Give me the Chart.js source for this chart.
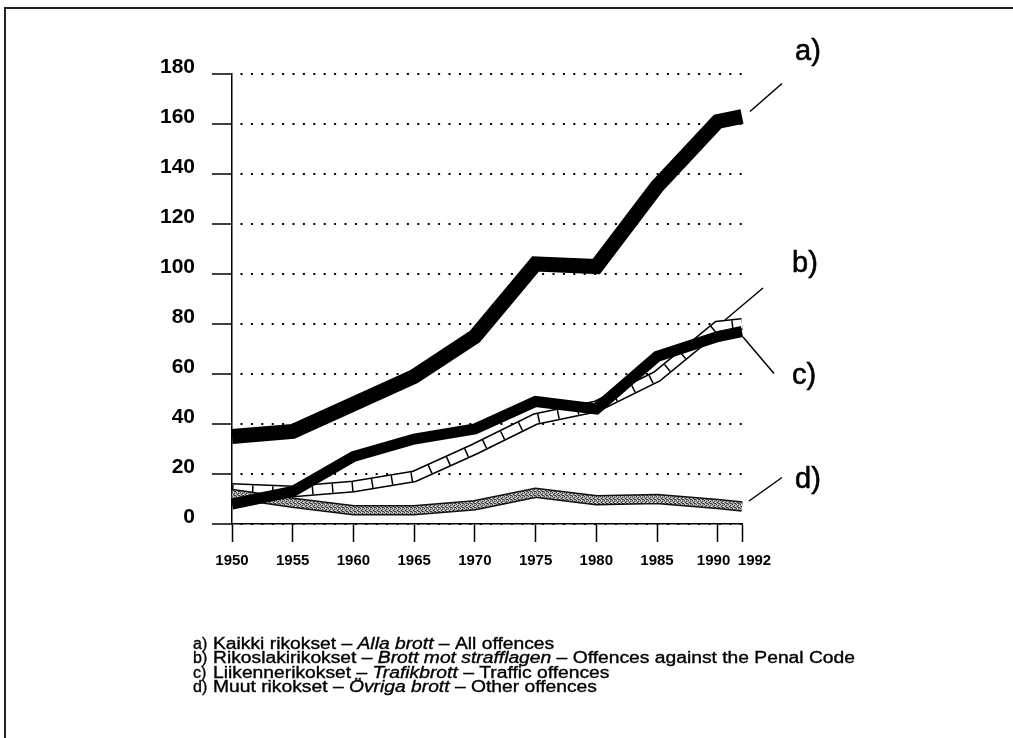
<!DOCTYPE html>
<html>
<head>
<meta charset="utf-8">
<script src="https://cdn.jsdelivr.net/npm/chart.js@4.4.0/dist/chart.umd.min.js"></script>
<style>
  html, body { margin: 0; padding: 0; background: #fff; }
  canvas { display: block; }
</style>
</head>
<body>
<canvas id="chart" width="1013" height="738"></canvas>
<script>
// Data (index, approx.)
const years = [1950, 1955, 1960, 1965, 1970, 1975, 1980, 1985, 1990, 1992];
const allOffences = [35, 37, 48, 59, 75, 104, 103, 135, 161, 163];
const penalCode = [14, 13, 15, 19, 30, 42, 47, 59, 79, 80];
const traffic = [8, 13, 27, 34, 38, 49, 46, 67, 75, 77];
const other = [12, 8.5, 5.5, 5.5, 7.5, 12.5, 9.5, 10, 8, 7];
const yTicks = [0, 20, 40, 60, 80, 100, 120, 140, 160, 180];

const legendRows = [
  ["a)", "Kaikki rikokset – ", "Alla brott", " – All offences"],
  ["b)", "Rikoslakirikokset – ", "Brott mot strafflagen", " – Offences against the Penal Code"],
  ["c)", "Liikennerikokset – ", "Trafikbrott", " – Traffic offences"],
  ["d)", "Muut rikokset – ", "Övriga brott", " – Other offences"],
];

const pts = (arr) => years.map((x, i) => ({ x: x, y: arr[i] }));

// stippled grey for series d
function stipple() {
  const p = document.createElement("canvas");
  p.width = 4; p.height = 4;
  const g = p.getContext("2d");
  g.fillStyle = "#a4a4a4";
  g.fillRect(0, 0, 4, 4);
  g.fillStyle = "#3c3c3c";
  [[0, 0], [2, 1], [1, 2], [3, 3], [2, 3]].forEach(([x, y]) => g.fillRect(x, y, 1, 1));
  g.fillStyle = "#e0e0e0";
  [[1, 0], [3, 2]].forEach(([x, y]) => g.fillRect(x, y, 1, 1));
  return document.getElementById("chart").getContext("2d").createPattern(p, "repeat");
}

const line = (data, color, width, extra) => Object.assign({
  data: pts(data),
  borderColor: color,
  borderWidth: width,
  pointRadius: 0,
  tension: 0,
  fill: false,
  clip: false,
  borderCapStyle: "butt",
  borderJoinStyle: "miter",
}, extra || {});

// callouts: offsets from the last point of each series
const callouts = [
  { txt: "a)", data: allOffences, from: [8, -5], to: [40, -33], lx: 795, ly: 52 },
  { txt: "b)", data: penalCode, from: [-17, -4], to: [21, -36], lx: 792, ly: 264 },
  { txt: "c)", data: traffic, from: [1, 5.5], to: [32, 42], lx: 792, ly: 376 },
  { txt: "d)", data: other, from: [7, -5.5], to: [40, -29], lx: 795, ly: 480 },
];

const extras = {
  id: "extras",
  afterDraw(chart) {
    const ctx = chart.ctx;
    const xs = chart.scales.x, ys = chart.scales.y;
    ctx.save();

    // frame
    ctx.strokeStyle = "#222";
    ctx.lineWidth = 2;
    ctx.beginPath();
    ctx.moveTo(5, 738);
    ctx.lineTo(5, 8);
    ctx.lineTo(1013, 8);
    ctx.stroke();

    // callout lines + letters
    ctx.strokeStyle = "#000";
    ctx.fillStyle = "#000";
    ctx.font = "29px 'Liberation Sans', Arial, sans-serif";
    ctx.textBaseline = "middle";
    ctx.textAlign = "left";
    callouts.forEach((c) => {
      const px = xs.getPixelForValue(years[years.length - 1]);
      const py = ys.getPixelForValue(c.data[c.data.length - 1]);
      ctx.lineWidth = 1.5;
      ctx.beginPath();
      ctx.moveTo(px + c.from[0], py + c.from[1]);
      ctx.lineTo(px + c.to[0], py + c.to[1]);
      ctx.stroke();
      ctx.lineWidth = 0.6;
      ctx.fillText(c.txt, c.lx, c.ly);
      ctx.strokeText(c.txt, c.lx, c.ly);
    });

    // legend text
    const fam = "'Liberation Sans', Arial, sans-serif";
    const reg = "16px " + fam, ita = "italic 16px " + fam;
    const rowWidth = (r) => {
      ctx.font = reg; let w = ctx.measureText(r[1]).width + ctx.measureText(r[3]).width;
      ctx.font = ita; w += ctx.measureText(r[2]).width;
      return w;
    };
    const sx = 642 / rowWidth(legendRows[1]);
    ctx.textBaseline = "alphabetic";
    ctx.lineWidth = 0.35;
    const put = (t, x) => { ctx.fillText(t, x, 0); ctx.strokeText(t, x, 0); };
    legendRows.forEach((r, i) => {
      const base = 649 + i * 14.4;
      ctx.font = reg;
      ctx.save();
      ctx.translate(193, base);
      put(r[0], 0);
      ctx.restore();
      ctx.save();
      ctx.translate(213, base);
      ctx.scale(sx, 1);
      let x = 0;
      [[r[1], reg], [r[2], ita], [r[3], reg]].forEach(([t, f]) => {
        ctx.font = f;
        put(t, x);
        x += ctx.measureText(t).width;
      });
      ctx.restore();
    });
    ctx.restore();
  },
};

const grey = stipple();

new Chart(document.getElementById("chart"), {
  type: "line",
  data: {
    datasets: [
      line(allOffences, "#000", 15),
      line(traffic, "#000", 11),
      line(other, grey, 7.5),
      line(other, "#111", 10.5),
      line(penalCode, "#000", 9, { borderDash: [1.5, 18.5] }),
      line(penalCode, "#fff", 9),
      line(penalCode, "#000", 12),
    ],
  },
  options: {
    responsive: false,
    animation: false,
    devicePixelRatio: 1,
    layout: { padding: { left: 0, top: 74, right: 271, bottom: 154 } },
    plugins: { legend: { display: false }, tooltip: { enabled: false } },
    scales: {
      x: {
        type: "linear",
        min: 1950,
        max: 1992,
        afterBuildTicks: (s) => { s.ticks = years.map((v) => ({ value: v })); },
        afterFit: (s) => { s.height = 60; },
        grid: { drawOnChartArea: false, drawTicks: true, tickLength: 18, tickColor: "#000", tickWidth: 1.5 },
        border: { display: true, color: "#000", width: 1.5 },
        ticks: {
          autoSkip: false,
          maxRotation: 0,
          padding: 10,
          color: "#000",
          font: { family: "'Liberation Sans', Arial, sans-serif", size: 15, weight: "bold" },
          callback: (v) => v === 1992 ? "      1992" : v === 1990 ? "1990  " : String(v),
        },
      },
      y: {
        min: 0,
        max: 180,
        afterBuildTicks: (s) => { s.ticks = yTicks.map((v) => ({ value: v })); },
        afterFit: (s) => { s.width = 232; },
        grid: { color: "#000", lineWidth: 2, drawTicks: true, tickLength: 20, tickColor: "#000", tickWidth: 1.5 },
        border: { display: true, color: "#000", width: 1.5, dash: [2, 8.4], dashOffset: -8 },
        ticks: {
          padding: 17,
          labelOffset: -7,
          color: "#000",
          font: { family: "'Liberation Sans', Arial, sans-serif", size: 21, weight: "bold" },
        },
      },
    },
  },
  plugins: [extras],
});
</script>
</body>
</html>
